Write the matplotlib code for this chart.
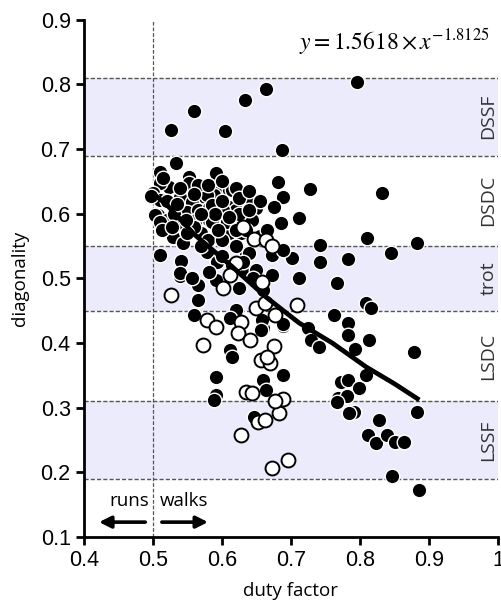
import numpy as np
import matplotlib
matplotlib.use("Agg")
import matplotlib.pyplot as plt

# gait bands (diagonality ranges) and their labels
band_lo = [0.69, 0.45, 0.19]
band_hi = [0.81, 0.55, 0.31]
gait_names = ["DSSF", "DSDC", "trot", "LSDC", "LSSF"]
gait_y = [0.75, 0.62, 0.50, 0.38, 0.25]

# filled circles (duty factor, diagonality)
filled_x = [0.796, 0.664, 0.633, 0.559, 0.526, 0.605, 0.687, 0.533, 0.511, 0.592, 0.682, 0.727, 0.832,
            0.688, 0.675, 0.711, 0.685, 0.810, 0.883, 0.742, 0.845, 0.783, 0.742, 0.702, 0.711, 0.767,
            0.809, 0.816, 0.763, 0.783, 0.783, 0.813, 0.793, 0.878, 0.725, 0.729, 0.741, 0.689,
            0.773, 0.783, 0.799, 0.809, 0.768, 0.781, 0.689, 0.592, 0.592, 0.659, 0.664, 0.612, 0.615,
            0.659, 0.658, 0.621, 0.612, 0.559, 0.566, 0.565, 0.557, 0.540, 0.541, 0.510, 0.531, 0.625,
            0.592, 0.672, 0.637, 0.650, 0.659, 0.635, 0.673, 0.688, 0.579, 0.593, 0.582,
            0.647, 0.792, 0.784, 0.828, 0.811, 0.823, 0.839, 0.851, 0.864, 0.882, 0.847, 0.886, 0.767,
            0.589, 0.689, 0.657, 0.539, 0.557, 0.529, 0.543, 0.640, 0.611, 0.628,
            0.553, 0.553, 0.523, 0.510, 0.500, 0.510, 0.539, 0.556, 0.591, 0.575, 0.611, 0.507, 0.520,
            0.549, 0.565, 0.582, 0.597, 0.611, 0.543, 0.563, 0.582, 0.601, 0.650, 0.643, 0.620, 0.615,
            0.621, 0.589, 0.578, 0.585, 0.601, 0.586, 0.607, 0.630, 0.643, 0.503, 0.510, 0.513, 0.497,
            0.570, 0.580, 0.600, 0.620, 0.600, 0.615, 0.630, 0.645, 0.655, 0.665, 0.570, 0.560, 0.595,
            0.625, 0.635, 0.550,
            0.520, 0.530, 0.540, 0.565, 0.580, 0.600, 0.625, 0.640, 0.655, 0.600, 0.535, 0.515, 0.590,
            0.570, 0.620, 0.640, 0.528, 0.548, 0.610, 0.560]
filled_y = [0.803, 0.793, 0.776, 0.759, 0.730, 0.728, 0.699, 0.679, 0.665, 0.663, 0.649, 0.638, 0.632,
            0.626, 0.611, 0.593, 0.586, 0.562, 0.555, 0.552, 0.539, 0.530, 0.525, 0.531, 0.501, 0.493,
            0.462, 0.454, 0.443, 0.431, 0.412, 0.405, 0.391, 0.386, 0.423, 0.405, 0.394, 0.426,
            0.340, 0.343, 0.330, 0.350, 0.315, 0.318, 0.350, 0.347, 0.320, 0.343, 0.327, 0.389, 0.378,
            0.423, 0.436, 0.451, 0.439, 0.443, 0.467, 0.490, 0.502, 0.504, 0.527, 0.536, 0.563, 0.485,
            0.498, 0.505, 0.510, 0.513, 0.482, 0.539, 0.536, 0.544, 0.541, 0.525, 0.510,
            0.286, 0.293, 0.292, 0.281, 0.258, 0.245, 0.258, 0.247, 0.247, 0.293, 0.194, 0.172, 0.309,
            0.312, 0.430, 0.420, 0.508, 0.501, 0.564, 0.555, 0.539, 0.570, 0.570,
            0.657, 0.648, 0.641, 0.648, 0.632, 0.621, 0.626, 0.618, 0.632, 0.626, 0.637, 0.598, 0.590,
            0.603, 0.606, 0.609, 0.609, 0.610, 0.585, 0.590, 0.590, 0.587, 0.609, 0.618, 0.606, 0.637,
            0.640, 0.629, 0.629, 0.614, 0.606, 0.587, 0.587, 0.586, 0.590, 0.598, 0.587, 0.575, 0.627,
            0.570, 0.560, 0.560, 0.550, 0.535, 0.520, 0.525, 0.500, 0.565, 0.575, 0.550, 0.580, 0.575,
            0.600, 0.575, 0.570,
            0.620, 0.600, 0.640, 0.645, 0.645, 0.650, 0.625, 0.635, 0.620, 0.620, 0.615, 0.655, 0.600,
            0.600, 0.575, 0.605, 0.580, 0.590, 0.595, 0.630]

# open circles
open_x = [0.527, 0.601, 0.612, 0.621, 0.646, 0.664, 0.673, 0.709, 0.650, 0.663, 0.677, 0.578, 0.592,
          0.573, 0.627, 0.624, 0.641, 0.675, 0.657, 0.670, 0.666, 0.635, 0.643, 0.688, 0.628, 0.652,
          0.663, 0.683, 0.677, 0.672, 0.696, 0.658, 0.630]
open_y = [0.474, 0.485, 0.505, 0.524, 0.561, 0.559, 0.550, 0.459, 0.454, 0.462, 0.443, 0.436, 0.425,
          0.397, 0.433, 0.415, 0.405, 0.395, 0.374, 0.369, 0.378, 0.324, 0.323, 0.313, 0.258, 0.278,
          0.281, 0.292, 0.310, 0.207, 0.219, 0.495, 0.580]

# fitted curve
fit_x = [0.497, 0.520, 0.560, 0.615, 0.664, 0.712, 0.760, 0.809, 0.850, 0.886]
fit_y = [0.634, 0.614, 0.568, 0.518, 0.471, 0.431, 0.400, 0.363, 0.337, 0.312]

fig = plt.figure(figsize=(5.02, 6.05), dpi=100)
ax = fig.add_axes([0.167, 0.1124, 0.825, 0.855])

for lo, hi in zip(band_lo, band_hi):
    ax.axhspan(lo, hi, color="#ebebfb", zorder=0, lw=0)
    for v in (lo, hi):
        ax.axhline(v, color="#555555", lw=1, ls=(0, (3, 1.5)), zorder=1)
ax.axvline(0.5, ymax=1.0, color="#555555", lw=0.9, ls=(0, (3, 1.5)), zorder=1)

ax.scatter(filled_x, filled_y, s=110, c="black", edgecolors="white", linewidths=1.0, zorder=3)
ax.scatter(open_x, open_y, s=100, c="white", edgecolors="black", linewidths=1.4, zorder=4)
ax.plot(fit_x, fit_y, color="black", lw=3.4, solid_capstyle="butt", zorder=5)

for name, yy in zip(gait_names, gait_y):
    ax.text(0.986, yy, name, rotation=90, ha="center", va="center", fontsize=14,
            family="Open Sans", color="#333333", zorder=6)

ax.text(0.988, 0.866, r"$y = 1.5618 \times x^{-1.8125}$", ha="right", va="center",
        fontsize=17, math_fontfamily="stix")

# runs / walks arrows
ax.annotate("", xy=(0.418, 0.123), xytext=(0.493, 0.123),
            arrowprops=dict(arrowstyle="-|>,head_length=0.7,head_width=0.35", color="black", lw=2.6))
ax.annotate("", xy=(0.584, 0.123), xytext=(0.509, 0.123),
            arrowprops=dict(arrowstyle="-|>,head_length=0.7,head_width=0.35", color="black", lw=2.6))
ax.text(0.466, 0.155, "runs", ha="center", va="center", fontsize=13.5, family="Open Sans")
ax.text(0.545, 0.155, "walks", ha="center", va="center", fontsize=13.5, family="Open Sans")

ax.set_xlim(0.4, 1.0)
ax.set_ylim(0.1, 0.9)
ax.set_xticks(np.arange(0.4, 1.01, 0.1))
ax.set_xticklabels(["0.4", "0.5", "0.6", "0.7", "0.8", "0.9", "1"])
ax.set_yticks(np.arange(0.1, 0.91, 0.1))
ax.set_yticklabels(["0.1", "0.2", "0.3", "0.4", "0.5", "0.6", "0.7", "0.8", "0.9"])
for lab in ax.get_xticklabels() + ax.get_yticklabels():
    lab.set_family("Liberation Sans")
    lab.set_fontsize(15.5)
ax.tick_params(direction="out", length=6, width=2)
ax.spines["top"].set_visible(False)
ax.spines["right"].set_visible(False)
ax.spines["left"].set_linewidth(2)
ax.spines["bottom"].set_linewidth(2)
ax.set_xlabel("duty factor", fontsize=13.5, family="Open Sans", labelpad=8)
ax.set_ylabel("diagonality", fontsize=13.5, family="Open Sans", labelpad=8)

fig.savefig("out.png", dpi=100)
